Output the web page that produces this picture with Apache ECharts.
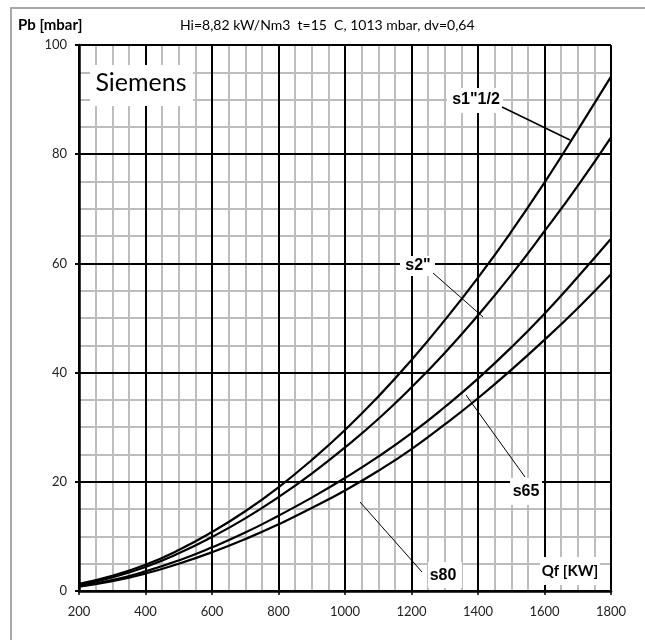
<!DOCTYPE html>
<html><head><meta charset="utf-8">
<style>html,body{margin:0;padding:0;background:#fff}#c{width:645px;height:640px}</style>
<script src="https://cdn.jsdelivr.net/npm/echarts@6/dist/echarts.min.js"></script>
</head><body><div id="c"></div>
<script>
const qf = [200,300,400,500,600,700,800,900,1000,1100,1200,1300,1400,1500,1600,1700,1800];
const s1_12 = [1.3,2.8,4.8,7.5,10.8,14.6,19.0,24.0,29.5,35.6,42.3,49.6,57.4,65.8,74.8,84.4,94.2];
const s2 = [1.1,2.5,4.4,6.9,9.9,13.3,17.2,21.5,26.3,31.5,37.3,43.6,50.5,57.9,65.9,74.2,83.1];
const s65 = [0.9,2.0,3.6,5.6,8.0,10.7,13.8,17.1,20.7,24.6,28.9,33.7,38.9,44.6,50.8,57.5,64.5];
const s80 = [0.8,1.8,3.2,5.0,7.1,9.5,12.2,15.2,18.4,22.0,26.0,30.5,35.3,40.5,46.0,51.8,58.0];
const seriesNames = ['s1"1/2','s2"','s65','s80'];
const xTicks = {min:200,max:1800,major:200,minor:50};
const yTicks = {min:0,max:100,major:20,minor:5};
const titleLeft = 'Pb [mbar]';
const titleMain = 'Hi=8,82 kW/Nm3  t=15  C, 1013 mbar, dv=0,64';
const xName = 'Qf [KW]';
const brand = 'Siemens';

const FONT = 'Lato, "Open Sans", sans-serif';
const LFONT = '"Liberation Sans", Arial, sans-serif';
const chart = echarts.init(document.getElementById('c'), null, {renderer:'canvas'});
const pair = arr => qf.map((q,i)=>[q,arr[i]]);
const allSeries = [s1_12,s2,s65,s80];
const plain = v => String(v);

const gridBox = {left:79,right:34,top:45,bottom:49};
chart.setOption({
  animation:false,
  backgroundColor:'#fff',
  grid:[gridBox],
  xAxis:[
    {type:'value',position:'bottom',min:xTicks.min,max:xTicks.max,interval:xTicks.minor,z:0,
     axisLine:{show:false},axisTick:{show:false},axisLabel:{show:false},
     splitLine:{show:true,lineStyle:{color:'#bdbdbd',width:2}}},
    {type:'value',position:'bottom',min:xTicks.min,max:xTicks.max,interval:xTicks.major,z:1,
     axisLine:{show:true,onZero:false,lineStyle:{color:'#000',width:2.5}},
     axisTick:{show:true,length:4,lineStyle:{color:'#000',width:1.5}},
     axisLabel:{color:'#222',fontFamily:FONT,fontSize:13,margin:14,formatter:plain},
     splitLine:{show:true,lineStyle:{color:'#000',width:2}}}
  ],
  yAxis:[
    {type:'value',position:'left',min:yTicks.min,max:yTicks.max,interval:yTicks.minor,z:0,
     axisLine:{show:false},axisTick:{show:false},axisLabel:{show:false},
     splitLine:{show:true,lineStyle:{color:'#bdbdbd',width:2}}},
    {type:'value',position:'left',min:yTicks.min,max:yTicks.max,interval:yTicks.major,z:1,
     axisLine:{show:true,onZero:false,lineStyle:{color:'#000',width:2.5}},
     axisTick:{show:true,length:4,lineStyle:{color:'#000',width:2}},
     axisLabel:{color:'#222',fontFamily:FONT,fontSize:13,margin:12,formatter:plain},
     splitLine:{show:true,lineStyle:{color:'#000',width:2}}}
  ],
  series: allSeries.map((arr,i)=>({
    name:seriesNames[i],type:'line',xAxisIndex:1,yAxisIndex:1,data:pair(arr),
    smooth:true,showSymbol:false,z:5,
    lineStyle:{color:'#000',width:2.2}
  }))
});

// annotations
const box = (x,y,w,h)=>({type:'rect',shape:{x:x,y:y,width:w,height:h},style:{fill:'#fff'},z:10,silent:true});
const txt = (t,x,y,font,align)=>({type:'text',x:x,y:y,z:11,silent:true,
  style:{text:t,font:font,fill:'#000',align:align||'center',verticalAlign:'middle'}});
const line = (x1,y1,x2,y2,w)=>({type:'line',shape:{x1:x1,y1:y1,x2:x2,y2:y2},z:11,silent:true,
  style:{stroke:'#000',lineWidth:w}});

chart.setOption({graphic:[
  {type:'line',shape:{x1:11,y1:8,x2:11,y2:640},style:{stroke:'#a8a8a8',lineWidth:2},silent:true},
  {type:'line',shape:{x1:10,y1:8,x2:645,y2:8},style:{stroke:'#a8a8a8',lineWidth:2},silent:true},
  txt(titleLeft,18,25,'bold 15px '+FONT,'left'),
  txt(titleMain,180,25,'14px '+FONT,'left'),
  box(90,65,103,41), txt(brand,141,83,'25px '+FONT),
  box(447,88,56,25), txt(seriesNames[0],476,100,'bold 16px '+LFONT),
  line(502,107,570,140,1.5),
  box(400,256,35,20), txt(seriesNames[1],418,266,'bold 16px '+LFONT),
  line(433,273,483,317,1),
  box(510,478,32,27), txt(seriesNames[2],526,492,'bold 16px '+LFONT),
  line(466,395,525,477,1),
  box(428,562,34,26), txt(seriesNames[3],443,576,'bold 16px '+LFONT),
  line(360,502,422,572,1),
  box(540,557,60,28), txt(xName,570,571,'bold 15px '+FONT)
]});
</script></body></html>
